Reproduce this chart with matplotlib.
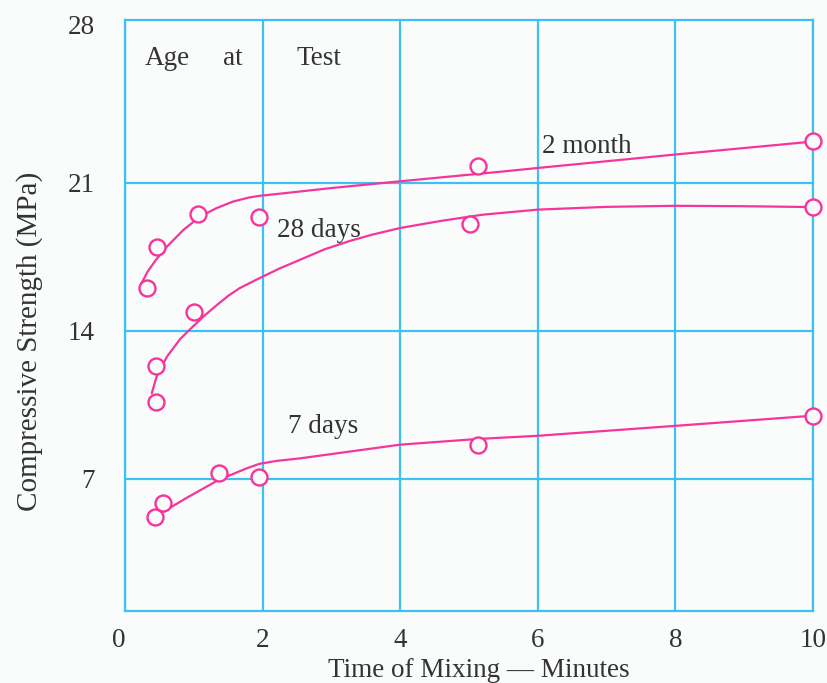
import matplotlib
matplotlib.use("Agg")
import matplotlib.pyplot as plt
from matplotlib.transforms import ScaledTranslation

# ---- data ----
m2_x = [0.32, 0.46, 1.06, 1.95, 5.13, 10.0]
m2_y = [16.0, 17.94, 19.52, 19.36, 21.78, 22.96]
d28_x = [0.45, 0.45, 1.01, 5.01, 10.0]
d28_y = [10.61, 12.31, 14.89, 19.04, 19.85]
d7_x = [0.44, 0.56, 1.36, 1.95, 5.13, 10.0]
d7_y = [5.19, 5.85, 7.27, 7.08, 8.60, 9.98]

# fitted curves (sampled along the drawn curves)
m2_cx = [0.24, 0.33, 0.45, 0.61, 0.85, 1.09, 1.33, 1.57, 1.80, 1.95, 2.3, 3.0, 4.0, 5.45, 6.0, 8.04, 10.0]
m2_cy = [16.24, 16.80, 17.35, 17.98, 18.77, 19.40, 19.80, 20.11, 20.30, 20.38, 20.50, 20.75, 21.07, 21.52, 21.70, 22.35, 22.95]
d28_cx = [0.39, 0.46, 0.61, 0.80, 0.94, 1.15, 1.33, 1.50, 1.67, 1.95, 2.25, 2.54, 2.9, 3.27, 3.6, 4.0, 4.6, 5.2, 6.0, 7.0, 8.0, 9.0, 10.0]
d28_cy = [11.04, 11.83, 12.77, 13.60, 14.05, 14.70, 15.20, 15.65, 16.02, 16.48, 16.95, 17.35, 17.85, 18.25, 18.55, 18.86, 19.20, 19.49, 19.73, 19.86, 19.91, 19.89, 19.85]
d7_cx = [0.56, 0.90, 1.36, 1.77, 1.95, 2.2, 2.54, 4.0, 5.13, 6.0, 8.0, 10.0]
d7_cy = [5.44, 6.10, 6.94, 7.49, 7.70, 7.84, 7.96, 8.61, 8.88, 9.03, 9.50, 9.98]

x_ticks = [0, 2, 4, 6, 8, 10]
y_ticks = [7, 14, 21, 28]

PINK = "#F5359A"
CYAN = "#3DC0F2"
TXT = "#333333"
FONT = "Liberation Serif"
FS = 19.5

fig = plt.figure(figsize=(8.27, 6.83), dpi=100)
fig.patch.set_facecolor("#FAFCFC")
ax = fig.add_axes([0.1511, 0.1054, 0.8320, 0.8653])
ax.set_facecolor("#FAFCFC")

ax.set_xlim(0, 10)
ax.set_ylim(0.74, 28.70)
ax.set_xticks(x_ticks)
ax.set_yticks(y_ticks)
ax.set_xticklabels([str(v) for v in x_ticks], fontfamily=FONT, fontsize=FS, color=TXT)
ax.set_yticklabels([str(v) for v in y_ticks], fontfamily=FONT, fontsize=FS, color=TXT)
ax.tick_params(axis="both", length=0)
ax.tick_params(axis="y", pad=22)
ax.tick_params(axis="x", pad=12)

ax.grid(True, color=CYAN, linewidth=1.6)
ax.set_axisbelow(True)
ygl = ax.get_ygridlines()
ygl[-1].set_visible(False)
for sp in ax.spines.values():
    sp.set_color(CYAN)
    sp.set_linewidth(1.6)

# shift top "28" label up to the top edge, and "0" slightly left
lab = ax.get_yticklabels()[-1]
lab.set_transform(lab.get_transform() + ScaledTranslation(0, 10 / 100, fig.dpi_scale_trans))
lab0 = ax.get_xticklabels()[0]
lab0.set_transform(lab0.get_transform() + ScaledTranslation(-6 / 100, 0, fig.dpi_scale_trans))

for cx, cy in [(m2_cx, m2_cy), (d28_cx, d28_cy), (d7_cx, d7_cy)]:
    ax.plot(cx, cy, color=PINK, linewidth=1.6, solid_capstyle="round", solid_joinstyle="round",
            clip_on=False, zorder=3)
for px, py in [(m2_x, m2_y), (d28_x, d28_y), (d7_x, d7_y)]:
    ax.plot(px, py, linestyle="none", marker="o", markersize=11.5, markerfacecolor="#FAFCFC",
            markeredgecolor=PINK, markeredgewidth=1.7, clip_on=False, zorder=4)

kw = dict(fontfamily=FONT, fontsize=FS, color=TXT, va="baseline", ha="left")
ax.text(0.29, 26.57, "Age", **kw)
ax.text(1.42, 26.57, "at", **kw)
ax.text(2.50, 26.57, "Test", **kw)
ax.text(6.06, 22.40, "2 month", **kw)
ax.text(2.21, 18.45, "28 days", **kw)
ax.text(2.37, 9.15, "7 days", **kw)

ax.set_xlabel("Time of Mixing \u2014 Minutes", fontfamily=FONT, fontsize=FS, color=TXT)
ax.xaxis.set_label_coords(0.5145, -0.079)
ax.set_ylabel("Compressive Strength (MPa)", fontfamily=FONT, fontsize=21, color=TXT)
ax.yaxis.set_label_coords(-0.119, 0.456)

fig.savefig("out.png", dpi=100, facecolor=fig.get_facecolor())
